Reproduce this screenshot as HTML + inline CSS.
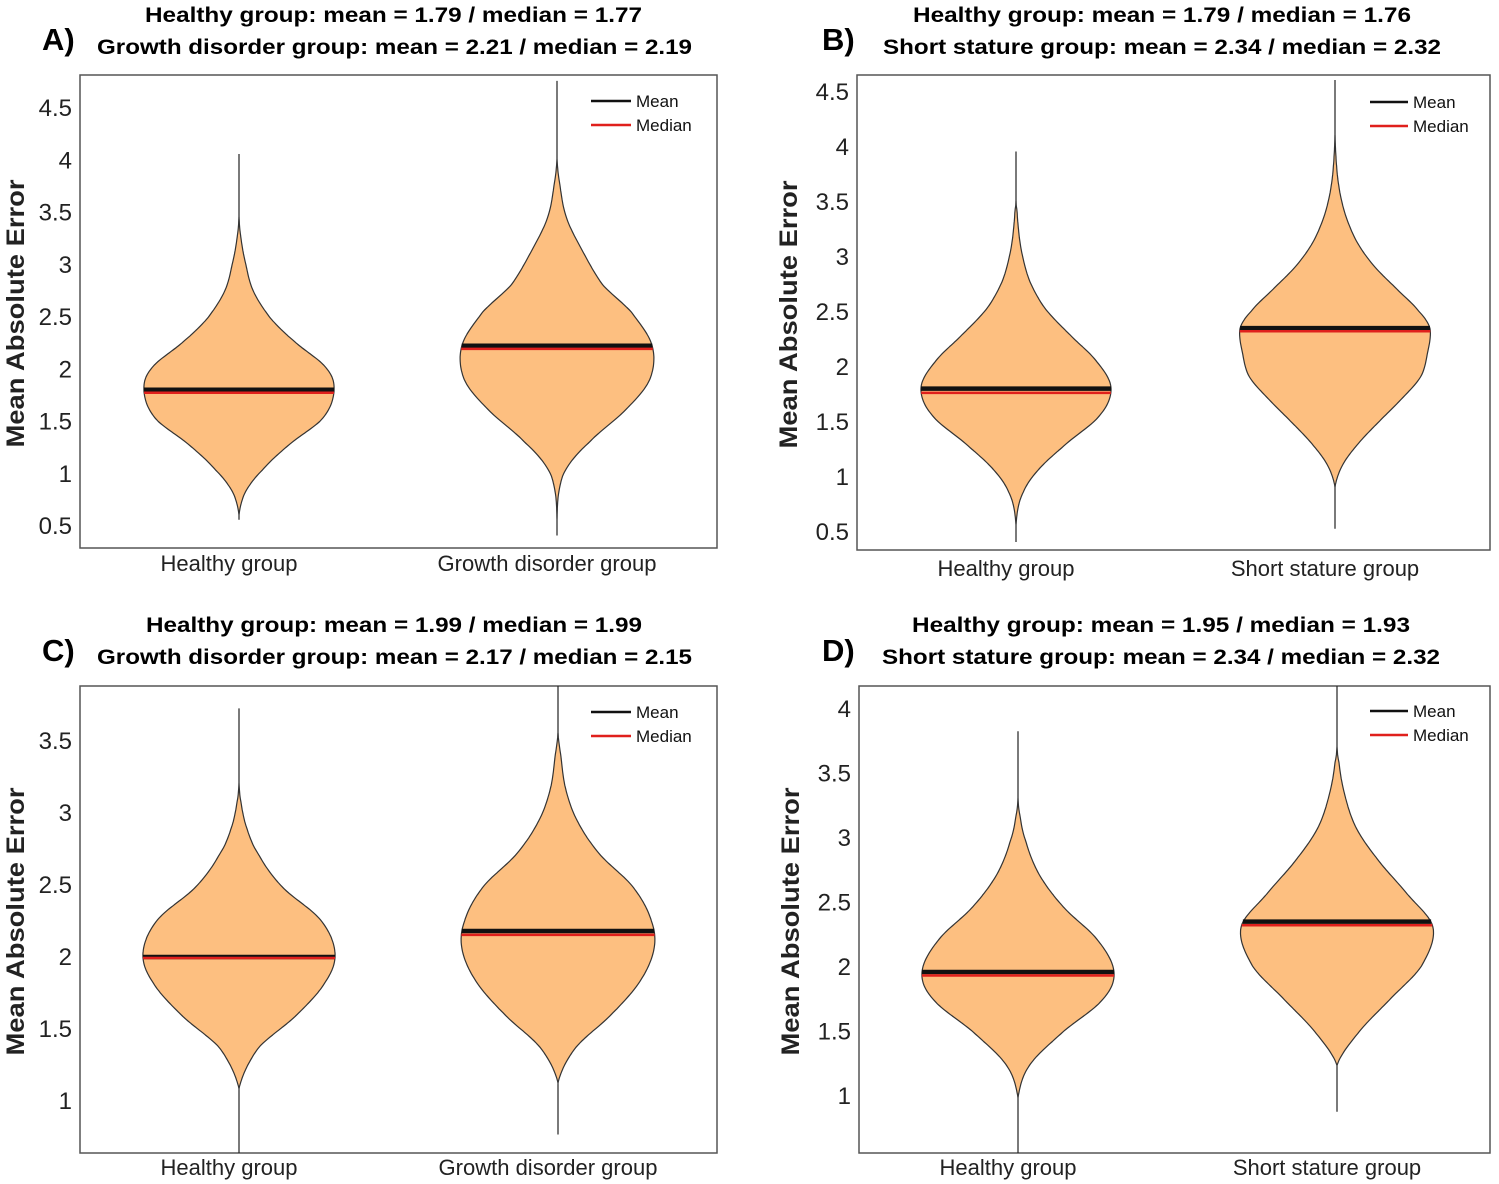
<!DOCTYPE html>
<html><head><meta charset="utf-8"><style>
html,body{margin:0;padding:0;background:#fff;}
svg{display:block;}
text{font-family:"Liberation Sans",sans-serif;}
</style></head><body>
<svg id="fig" width="1499" height="1184" viewBox="0 0 1499 1184" xmlns="http://www.w3.org/2000/svg"></svg>
<script>
// ---------- Data ----------
const panelLetters = ["A)", "B)", "C)", "D)"];
const titleLine1 = ["Healthy group: mean = 1.79 / median = 1.77","Healthy group: mean = 1.79 / median = 1.76","Healthy group: mean = 1.99 / median = 1.99","Healthy group: mean = 1.95 / median = 1.93"];
const titleLine2 = ["Growth disorder group: mean = 2.21 / median = 2.19","Short stature group: mean = 2.34 / median = 2.32","Growth disorder group: mean = 2.17 / median = 2.15","Short stature group: mean = 2.34 / median = 2.32"];
const categoriesA = ["Healthy group","Growth disorder group"];
const categoriesB = ["Healthy group","Short stature group"];
const tickLabelsAB = ["0.5","1","1.5","2","2.5","3","3.5","4","4.5"];
const tickLabelsC = ["1","1.5","2","2.5","3","3.5"];
const tickLabelsD = ["1","1.5","2","2.5","3","3.5","4"];
const means = [[1.79,2.21],[1.79,2.34],[1.99,2.17],[1.95,2.34]];
const medians = [[1.77,2.19],[1.76,2.32],[1.99,2.15],[1.93,2.32]];
const whiskerLow = [[0.55,0.4],[0.4,0.52],[0.63,0.76],[0.55,0.87]];
const whiskerHigh = [[4.05,4.75],[3.95,4.6],[3.72,3.88],[3.82,4.17]];
// density profiles: values and relative half-widths
const densValsA1 = [0.6,0.82,1.03,1.27,1.52,1.78,2.0,2.26,2.48,2.74,3.0,3.25,3.45];
const densA1     = [0,0.07,0.25,0.53,0.88,1,0.92,0.58,0.33,0.15,0.07,0.02,0];
const densValsA2 = [0.56,0.82,1.04,1.3,1.62,1.9,2.22,2.54,2.8,3.12,3.44,3.76,4.0];
const densA2     = [0,0.02,0.1,0.35,0.74,0.98,1,0.78,0.48,0.27,0.1,0.03,0];
const densValsB1 = [0.56,0.8,1.02,1.27,1.55,1.8,2.04,2.3,2.53,2.78,3.08,3.42,3.5];
const densB1     = [0,0.05,0.2,0.5,0.88,1,0.85,0.55,0.3,0.14,0.05,0.01,0];
const densValsB2 = [0.9,1.1,1.3,1.5,1.7,1.9,2.1,2.34,2.5,2.7,2.9,3.1,3.3,3.5,3.7,3.9,4.1];
const densB2     = [0,0.08,0.25,0.47,0.7,0.9,0.97,1,0.88,0.65,0.42,0.25,0.14,0.07,0.03,0.01,0];
const densValsC1 = [1.08,1.36,1.59,1.82,2.02,2.25,2.48,2.71,2.89,3.07,3.2];
const densC1     = [0,0.2,0.6,0.9,1,0.85,0.45,0.2,0.08,0.02,0];
const densValsC2 = [1.12,1.36,1.59,1.82,2.05,2.25,2.48,2.71,2.94,3.16,3.39,3.55];
const densC2     = [0,0.18,0.55,0.85,1,0.97,0.78,0.43,0.2,0.08,0.03,0];
const densValsD1 = [0.98,1.23,1.49,1.74,1.95,2.2,2.46,2.71,2.97,3.17,3.3];
const densD1     = [0,0.12,0.47,0.88,1,0.83,0.47,0.22,0.08,0.02,0];
const densValsD2 = [1.23,1.49,1.74,2.0,2.3,2.56,2.82,3.07,3.33,3.58,3.7];
const densD2     = [0,0.23,0.55,0.88,1,0.73,0.43,0.2,0.08,0.02,0];

// ---------- Layout ----------
const panels = [
 {box:[80,75,717,548], t:[0.5,525,4.5,107], ticks:tickLabelsAB, cats:categoriesA, cx:[239,557], hw:95, ty:[22,54], l1:[145,642], l2:[97,692], lx:42, xl:571, ylabX:24, dens:[[densValsA1,densA1],[densValsA2,densA2]], leg:[591,631,101]},
 {box:[857,75,1490,550], t:[0.5,531,4.5,91], ticks:tickLabelsAB, cats:categoriesB, cx:[1016,1335], hw:95, ty:[22,54], l1:[913,1411], l2:[883,1441], lx:822, xl:576, ylabX:797, dens:[[densValsB1,densB1],[densValsB2,densB2]], leg:[1370,1408,102]},
 {box:[80,686,717,1153], t:[1,1100,3.5,740], ticks:tickLabelsC, cats:categoriesA, cx:[239,558], hw:96, ty:[632,664], l1:[146,642], l2:[97,692], lx:42, xl:1175, ylabX:24, dens:[[densValsC1,densC1],[densValsC2,densC2]], leg:[591,631,712]},
 {box:[859,686,1490,1153], t:[1,1095,4,708], ticks:tickLabelsD, cats:categoriesB, cx:[1018,1337], hw:96, ty:[632,664], l1:[912,1410], l2:[882,1440], lx:822, xl:1175, ylabX:799, dens:[[densValsD1,densD1],[densValsD2,densD2]], leg:[1370,1408,711]}
];

const NS="http://www.w3.org/2000/svg";
const svg=document.getElementById('fig');
function mk(tag,attrs,parent){const e=document.createElementNS(NS,tag);for(const k in attrs)e.setAttribute(k,attrs[k]);(parent||svg).appendChild(e);return e;}

function catmull(pts){
  let d="M"+pts[0][0].toFixed(1)+","+pts[0][1].toFixed(1);
  for(let i=0;i<pts.length-1;i++){
    const p0=pts[Math.max(0,i-1)],p1=pts[i],p2=pts[i+1],p3=pts[Math.min(pts.length-1,i+2)];
    const c1=[p1[0]+(p2[0]-p0[0])/6,p1[1]+(p2[1]-p0[1])/6];
    const c2=[p2[0]-(p3[0]-p1[0])/6,p2[1]-(p3[1]-p1[1])/6];
    d+=" C"+c1[0].toFixed(1)+","+c1[1].toFixed(1)+" "+c2[0].toFixed(1)+","+c2[1].toFixed(1)+" "+p2[0].toFixed(1)+","+p2[1].toFixed(1);
  }
  return d;
}
function smoothInterp(vals,dens,v){
  const n=vals.length;
  if(v<=vals[0]||v>=vals[n-1])return 0;
  let i=0;while(i<n-2&&v>vals[i+1])i++;
  const t=(v-vals[i])/(vals[i+1]-vals[i]);
  const p0=dens[Math.max(0,i-1)],p1=dens[i],p2=dens[i+1],p3=dens[Math.min(n-1,i+2)];
  const r=0.5*((2*p1)+(-p0+p2)*t+(2*p0-5*p1+4*p2-p3)*t*t+(-p0+3*p1-3*p2+p3)*t*t*t);
  return Math.max(0,r);
}

panels.forEach((p,pi)=>{
  const g=mk('g',{});
  
  
  const [x0,y0,x1,y1]=p.box;
  const yS=v=>p.t[1]+(v-p.t[0])*(p.t[3]-p.t[1])/(p.t[2]-p.t[0]);
  const vMin=p.t[0]+(y1-p.t[1])*(p.t[2]-p.t[0])/(p.t[3]-p.t[1]);
  const vMax=p.t[0]+(y0-p.t[1])*(p.t[2]-p.t[0])/(p.t[3]-p.t[1]);
  const let_=mk('text',{x:p.lx,y:(pi<2?50:661),'font-size':31,'font-weight':'bold',fill:'#000'},g);let_.textContent=panelLetters[pi];
  
  const t1=mk('text',{x:p.l1[0],y:p.ty[0],'font-size':21,'font-weight':'bold',textLength:p.l1[1]-p.l1[0],lengthAdjust:'spacingAndGlyphs',fill:'#000'},g);t1.textContent=titleLine1[pi];
  
  const t2=mk('text',{x:p.l2[0],y:p.ty[1],'font-size':21,'font-weight':'bold',textLength:p.l2[1]-p.l2[0],lengthAdjust:'spacingAndGlyphs',fill:'#000'},g);t2.textContent=titleLine2[pi];
  
  const bx=mk('rect',{x:x0,y:y0,width:x1-x0,height:y1-y0,fill:'#fff',stroke:'#555','stroke-width':1.5},g);
  
  p.ticks.forEach(lbl=>{
    const v=parseFloat(lbl);
    const tt=mk('text',{x:x0-8,y:yS(v)+9,'font-size':24,'text-anchor':'end',fill:'#222'},g);tt.textContent=lbl;
    
  });
  const yl=mk('text',{x:p.ylabX,y:(y0+y1)/2+2,'font-size':25,'font-weight':'bold','text-anchor':'middle',fill:'#222',textLength:268,lengthAdjust:'spacingAndGlyphs',transform:`rotate(-90 ${p.ylabX} ${(y0+y1)/2+2})`},g);
  yl.textContent="Mean Absolute Error";
  
  p.cx.forEach((cx,ci)=>{
    const [vals,dens]=p.dens[ci];
    const hi=Math.min(whiskerHigh[pi][ci],vMax), lo=Math.max(whiskerLow[pi][ci],vMin);
    const wl=mk('line',{x1:cx,x2:cx,y1:yS(lo),y2:yS(hi),stroke:'#222','stroke-width':1.2},g);
    
    const a=vals[0],b=vals[vals.length-1],N=80,right=[],left=[];
    for(let k=0;k<=N;k++){const v=a+(b-a)*k/N;const w=smoothInterp(vals,dens,v)*p.hw;right.push([cx+w,yS(v)]);left.push([cx-w,yS(v)]);}
    let d=catmull(right);
    left.reverse();
    d+=" L"+catmull(left).slice(1)+" Z";
    const vp=mk('path',{d:d,fill:'#fdbf80',stroke:'#333','stroke-width':1.2},g);
    
    const mw=smoothInterp(vals,dens,means[pi][ci])*p.hw;
    const mdw=smoothInterp(vals,dens,medians[pi][ci])*p.hw;
    const mn=mk('line',{x1:cx-mw,x2:cx+mw,y1:yS(means[pi][ci])-0.5,y2:yS(means[pi][ci])-0.5,stroke:'#111','stroke-width':4.5},g);
    
    const ml=mk('line',{x1:cx-mdw,x2:cx+mdw,y1:yS(medians[pi][ci])+0.5,y2:yS(medians[pi][ci])+0.5,stroke:'#e0201c','stroke-width':2.5},g);
    
    const xt=mk('text',{x:cx-10,y:p.xl,'font-size':22,'text-anchor':'middle',fill:'#222'},g);xt.textContent=p.cats[ci];
    
  });
  const [lx0,lx1,ly]=p.leg;
  const lg=mk('g',{},g);
  const l1=mk('line',{x1:lx0,x2:lx1,y1:ly,y2:ly,stroke:'#111','stroke-width':2.5},lg);
  
  const lt1=mk('text',{x:lx1+5,y:ly+6,'font-size':17,fill:'#111'},lg);lt1.textContent="Mean";
  
  const l2=mk('line',{x1:lx0,x2:lx1,y1:ly+24,y2:ly+24,stroke:'#e0201c','stroke-width':2.5},lg);
  
  const lt2=mk('text',{x:lx1+5,y:ly+30,'font-size':17,fill:'#111'},lg);lt2.textContent="Median";
  
});
</script>
</body></html>
